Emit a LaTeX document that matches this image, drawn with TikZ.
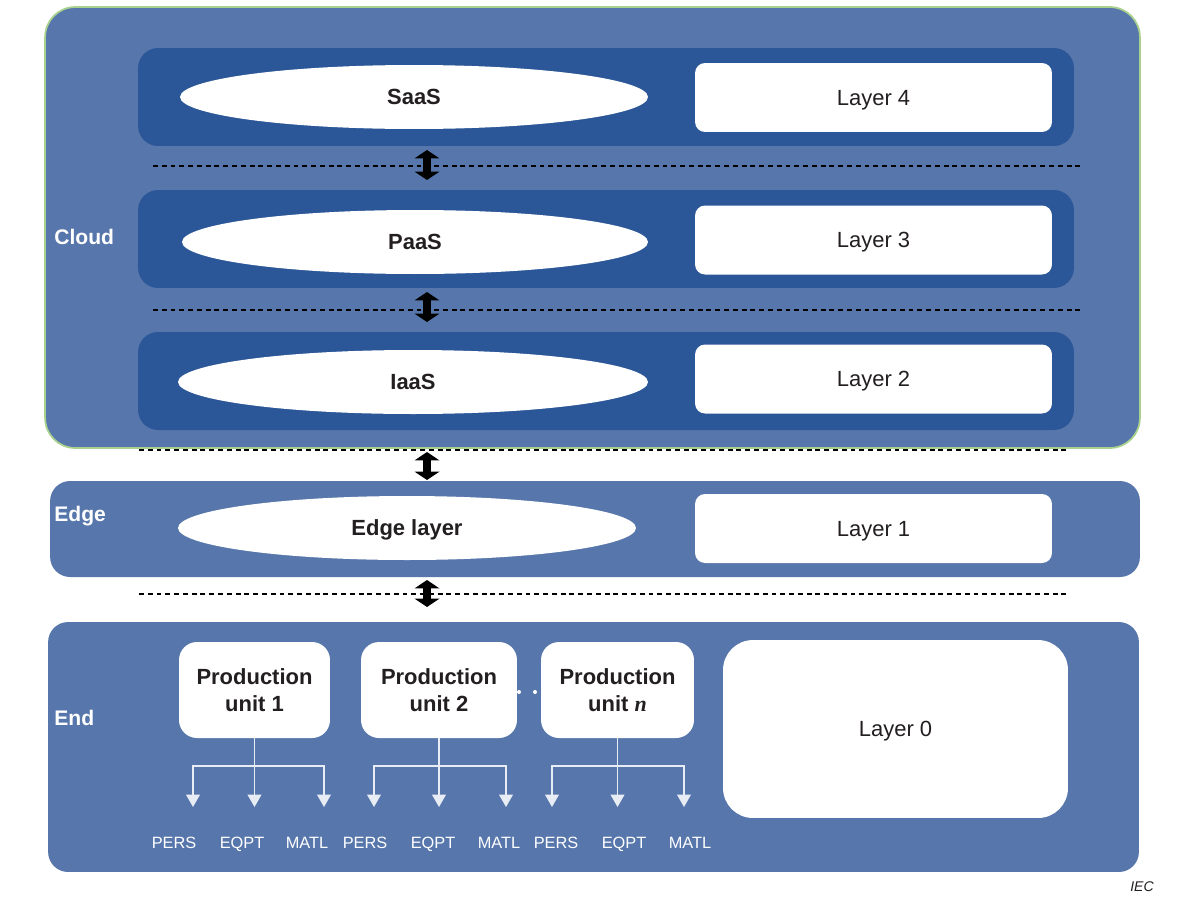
\documentclass[tikz,border=0pt]{standalone}
\usepackage{fontspec}
\setmainfont{Liberation Sans}
\newfontfamily\serifbf{Liberation Serif}
\usetikzlibrary{shapes.geometric, arrows.meta, positioning, calc}

\definecolor{colLight}{RGB}{87,118,171}
\definecolor{colDark}{RGB}{43,86,152}
\definecolor{colRim}{RGB}{169,209,142}
\definecolor{colInk}{RGB}{35,31,32}
\definecolor{colLine}{RGB}{232,236,245}

\tikzset{
    panel/.style={rounded corners=0.4cm, fill=colLight, inner sep=0pt},
    band/.style={rounded corners=0.4cm, fill=colDark, inner sep=0pt,
        minimum width=18.72cm, minimum height=1.96cm},
    svc/.style={ellipse, fill=white, inner sep=0pt, minimum height=1.28cm,
        text depth=0pt, font=\fontsize{12.5}{14}\selectfont\bfseries, text=colInk},
    layerbox/.style={rounded corners=0.2cm, fill=white, inner sep=0pt,
        minimum width=7.14cm, minimum height=1.38cm, text depth=0pt,
        font=\fontsize{12.5}{14}\selectfont, text=colInk},
    unitbox/.style={rounded corners=0.36cm, fill=white, inner sep=0pt,
        minimum height=1.92cm, align=center,
        font=\fontsize{12.5}{15}\selectfont\bfseries, text=colInk},
    tier/.style={anchor=west, inner sep=0pt, text=white,
        font=\fontsize{12}{14}\selectfont\bfseries},
    res/.style={text=white, text depth=0pt, font=\fontsize{9.3}{11}\selectfont},
    sep/.style={dash pattern=on 2.8pt off 2.2pt, line width=0.6pt, black},
    updown/.style={line width=4pt,
        {Triangle[width=14pt,length=4.8pt]}-{Triangle[width=14pt,length=4.8pt]}},
    branch/.style={colLine, line width=0.8pt, -{Triangle[width=7.8pt,length=7pt]}},
    dot/.style={circle, fill=white, inner sep=0pt, minimum size=0.08cm}
}

\begin{document}
\begin{tikzpicture}[x=0.02cm, y=-0.02cm]
    \useasboundingbox (0,0) rectangle (1192,896);

    % Cloud
    \node[panel, rounded corners=0.6cm, draw=colRim, line width=1pt,
        minimum width=21.9cm, minimum height=8.82cm] (cloud) at (592.5,227.5) {};
    \node[tier] (cloudlbl) at (54,237) {Cloud};

    \node[band] (b4) at (606,97) {};
    \node[band] (b3) at (606,239) {};
    \node[band] (b2) at (606,381) {};

    \node[svc, minimum width=9.36cm] (saas) at (414,97) {SaaS};
    \node[svc, minimum width=9.32cm] (paas) at (415,242) {PaaS};
    \node[svc, minimum width=9.4cm] (iaas) at (413,382) {IaaS};

    \node[layerbox] (l4) at (873.5,97.5) {Layer 4};
    \node[layerbox] (l3) at (873.5,240) {Layer 3};
    \node[layerbox] (l2) at (873.5,379) {Layer 2};

    % Edge
    \node[panel, minimum width=21.8cm, minimum height=1.92cm] (edge) at (595,529) {};
    \node[tier] (edgelbl) at (54,516) {Edge};
    \node[svc, minimum width=9.16cm] (edgesvc) at (407,528) {Edge layer};
    \node[layerbox] (l1) at (873.5,528.5) {Layer 1};

    % End
    \node[panel, minimum width=21.82cm, minimum height=5cm] (end) at (593.5,747) {};
    \node[tier] (endlbl) at (54,718) {End};
    \node[unitbox, minimum width=3.02cm] (pu1) at (254.5,690) {Production\\unit 1};
    \node[unitbox, minimum width=3.12cm] (pu2) at (439,690) {Production\\unit 2};
    \node[unitbox, minimum width=3.06cm] (pun) at (617.5,690)
        {Production\\unit {\serifbf\bfseries\itshape n}};
    \node[dot] (gap1) at (519,692) {};
    \node[dot] (gap2) at (535,692) {};
    \node[rounded corners=0.6cm, fill=white, inner sep=0pt, minimum width=6.9cm,
        minimum height=3.56cm, text depth=0pt, font=\fontsize{12.5}{14}\selectfont,
        text=colInk] (l0) at (895.5,729) {Layer 0};

    % Trennlinien
    \draw[sep] (153,166) -- (1082,166);
    \draw[sep] (153,310) -- (1082,310);
    \draw[sep] (139,450) -- (1068,450);
    \draw[sep] (139,594) -- (1068,594);

    % Doppelpfeile
    \foreach \i/\t/\b in {1/150/180, 2/292/322, 3/452/480, 4/580/607} {
        \coordinate (up\i) at (427,\t);
        \coordinate (dn\i) at (427,\b);
        \draw[updown] (up\i) -- (dn\i);
    }

    % PERS / EQPT / MATL
    \coordinate (fork) at (0,766);
    \coordinate (tips) at (0,807);
    \foreach \u/\l/\r in {pu1/193/324, pu2/374/506, pun/552/684} {
        \coordinate (\u-j) at (\u.south |- fork);
        \draw[branch] (\u.south) -- (\u.south |- tips);
        \draw[branch] (\u-j) -| (\l,807);
        \draw[branch] (\u-j) -| (\r,807);
    }
    \foreach \n/\x/\t in {1/174/PERS, 2/242/EQPT, 3/307/MATL,
                          4/365/PERS, 5/433/EQPT, 6/499/MATL,
                          7/556/PERS, 8/624/EQPT, 9/690/MATL}
        \node[res] (r\n) at (\x,843) {\t};

    \node[font=\fontsize{8}{10}\selectfont\itshape, text=colInk] (iec) at (1142,887) {IEC};
\end{tikzpicture}
\end{document}
